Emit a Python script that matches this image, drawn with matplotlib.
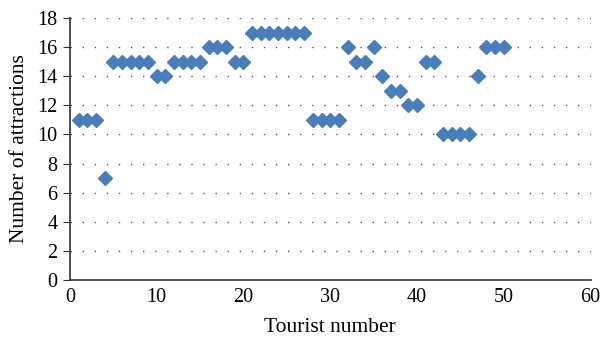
import matplotlib
matplotlib.use("Agg")
import matplotlib.pyplot as plt

tourist = list(range(1, 51))
attractions = [11, 11, 11, 7, 15, 15, 15, 15, 15, 14,
               14, 15, 15, 15, 15, 16, 16, 16, 15, 15,
               17, 17, 17, 17, 17, 17, 17, 11, 11, 11,
               11, 16, 15, 15, 16, 14, 13, 13, 12, 12,
               15, 15, 10, 10, 10, 10, 14, 16, 16, 16]
xticks = [0, 10, 20, 30, 40, 50, 60]
yticks = [0, 2, 4, 6, 8, 10, 12, 14, 16, 18]

plt.rcParams['font.family'] = ['Liberation Serif', 'DejaVu Serif']

fig = plt.figure(figsize=(6.02, 3.41), dpi=100)
ax = fig.add_axes([0.116, 0.179, 0.865, 0.768])

for y in yticks[1:]:
    ax.axhline(y, color='#555555', linestyle=(0, (1, 7.7)), linewidth=1.0, zorder=1)

ax.plot(tourist, attractions, linestyle='none', marker='D', markersize=7.5,
        color='#4A7EBB', markeredgecolor='#4A7EBB', zorder=3, clip_on=False)

ax.set_xlim(0, 60)
ax.set_ylim(0, 18)
ax.set_xticks(xticks)
ax.set_yticks(yticks)
for s in ['top', 'right']:
    ax.spines[s].set_visible(False)
for s in ['left', 'bottom']:
    ax.spines[s].set_color('#333333')
    ax.spines[s].set_linewidth(1.2)
ax.tick_params(axis='y', direction='out', length=5, color='#333333', labelsize=14.5, pad=4)
ax.tick_params(axis='x', direction='out', length=0, color='#333333', labelsize=14.5, pad=6)

ax.set_xlabel('Tourist number', fontsize=15.5, labelpad=8)
ax.set_ylabel('Number of attractions', fontsize=15.5, labelpad=6)

fig.savefig('out.png', dpi=100)
